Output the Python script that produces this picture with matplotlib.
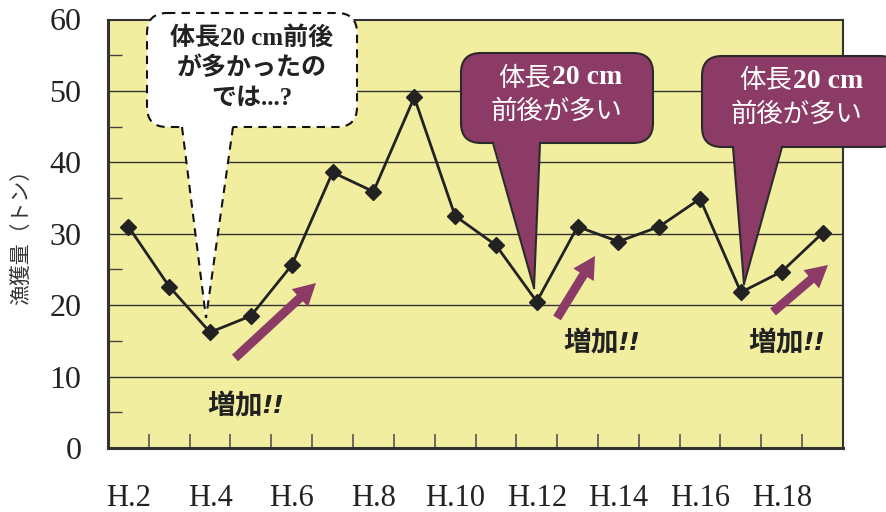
import numpy as np
import matplotlib
matplotlib.use('Agg')
import matplotlib.pyplot as plt
import matplotlib.transforms as mtransforms
from matplotlib.patches import FancyBboxPatch, Polygon, FancyArrow

# data
years = ['H.2', 'H.3', 'H.4', 'H.5', 'H.6', 'H.7', 'H.8', 'H.9', 'H.10',
         'H.11', 'H.12', 'H.13', 'H.14', 'H.15', 'H.16', 'H.17', 'H.18', 'H.19']
catch_t = [31.0, 22.6, 16.2, 18.5, 25.6, 38.6, 35.9, 49.1, 32.5,
           28.4, 20.5, 31.0, 28.9, 31.0, 34.9, 21.8, 24.7, 30.1]
y_ticks = [0, 10, 20, 30, 40, 50, 60]

BG = '#f2eea0'
PURPLE = '#8c3a66'
DARK = '#222222'
JP = ['Noto Sans CJK JP', 'DejaVu Sans']
MIX = ['Liberation Serif', 'Noto Sans CJK JP']

W, H = 886, 512
fig = plt.figure(figsize=(W / 100, H / 100), dpi=100)
ax = fig.add_axes([108 / W, 1 - 448 / H, 735 / W, 428.5 / H])
ax.set_facecolor(BG)

x = np.arange(len(years))
ax.plot(x, catch_t, color=DARK, lw=2.0, marker='D', ms=8, mfc=DARK, mec=DARK, zorder=5)

ax.set_xlim(-0.5, len(years) - 0.5)
ax.set_ylim(0, 60)

# y axis
ax.set_yticks(y_ticks)
ax.set_yticklabels([str(v) for v in y_ticks], family='Liberation Serif', fontsize=23, color=DARK)
ax.set_yticks(np.arange(5, 60, 10), minor=True)
ax.tick_params(axis='y', which='major', length=0, pad=19)
ax.tick_params(axis='y', which='minor', direction='in', length=10, width=1, color='#444444')
for v in y_ticks[1:-1]:
    ax.axhline(v, color='#333333', lw=1.0, zorder=1)

# x axis: tick marks between categories, labels every other year
ax.set_xticks(np.arange(0.5, len(years) - 1, 1.0))
ax.set_xticklabels([])
ax.tick_params(axis='x', which='major', direction='in', length=10, width=1.2, color='#555555')
ax.set_xticks(x[::2], minor=True)
ax.set_xticklabels(years[::2], minor=True, family='Liberation Serif', fontsize=22, color=DARK)
ax.tick_params(axis='x', which='minor', length=0, pad=26)

for s in ax.spines.values():
    s.set_color('#333333')
    s.set_linewidth(1.5)
ax.spines['bottom'].set_linewidth(2.2)
ax.spines['left'].set_linewidth(2.2)

fig.text(21 / W, 1 - 232 / H, '漁獲量（トン）', rotation=90, ha='center', va='center',
         family=JP, fontsize=15, color='#333333')

# annotation layer in reference pixel coordinates (origin top-left)
ref = mtransforms.Affine2D().scale(1 / W, -1 / H).translate(0, 1) + fig.transFigure


def callout(x0, y0, x1, y1, tail, tip, face, edge, ls, rad):
    box = FancyBboxPatch((x0 + rad, y0 + rad), x1 - x0 - 2 * rad, y1 - y0 - 2 * rad,
                         boxstyle='round,pad=%d' % rad, fc=face, ec=edge, lw=1.5,
                         ls=ls, transform=ref, zorder=10, clip_on=False)
    fig.add_artist(box)
    tri = Polygon([(tail[0], y1 - 3), (tail[1], y1 - 3), tip], closed=True, fc=face,
                  ec='none', transform=ref, zorder=11, clip_on=False)
    fig.add_artist(tri)
    for tx in tail:
        fig.add_artist(plt.Line2D([tx, tip[0]], [y1, tip[1]], color=edge, lw=1.5, ls=ls,
                                  transform=ref, zorder=12))


# white dashed callout
callout(147, 13, 357, 127, (182, 233), (206, 318), 'white', '#111111', (0, (4, 3)), 20)
fig.text(252 / W, 1 - 68 / H, '体長20 cm前後\nが多かったの\nでは...?', ha='center', va='center',
         family=MIX, fontsize=18, fontweight='bold', color=DARK, linespacing=1.35, zorder=13)

# purple callouts
for (bx0, by0, bx1, by1, tail, tip, split, cx) in [
        (461, 53, 653, 143, (493, 540), (534, 288), 551, 557),
        (702, 56, 900, 147, (733, 782), (744, 284), 792, 797)]:
    callout(bx0, by0, bx1, by1, tail, tip, PURPLE, '#2a2a2a', '-', 20)
    ly = by0 + 25
    fig.text(split / W, 1 - ly / H, '体長', ha='right', va='center', family=JP,
             fontsize=19, color='white', zorder=13)
    fig.text((split + 1) / W, 1 - ly / H, '20 cm', ha='left', va='center',
             family='Liberation Serif', fontsize=20, fontweight='bold', color='white', zorder=13)
    fig.text(cx / W, 1 - (ly + 33) / H, '前後が多い', ha='center', va='center', family=JP,
             fontsize=19, color='white', zorder=13)

# arrows and "増加!!"
for (ax0, ay0, ax1, ay1) in [(235, 358, 316, 283), (557, 318, 595, 256), (773, 312, 828, 265)]:
    arr = FancyArrow(ax0, ay0, ax1 - ax0, ay1 - ay0, width=9, head_width=24, head_length=22,
                     length_includes_head=True, fc=PURPLE, ec='none', transform=ref, zorder=9)
    fig.add_artist(arr)

for (tx, ty) in [(207, 406), (563, 343), (748, 343)]:
    fig.text(tx / W, 1 - ty / H, '増加', ha='left', va='center', family=JP, fontsize=20,
             fontweight='bold', color=DARK, zorder=13)
    fig.text((tx + 54) / W, 1 - ty / H, '!!', ha='left', va='center', family='DejaVu Sans',
             fontsize=18, fontweight='bold', style='italic', color=DARK, zorder=13)

fig.savefig('out.png', dpi=100, facecolor='white')
